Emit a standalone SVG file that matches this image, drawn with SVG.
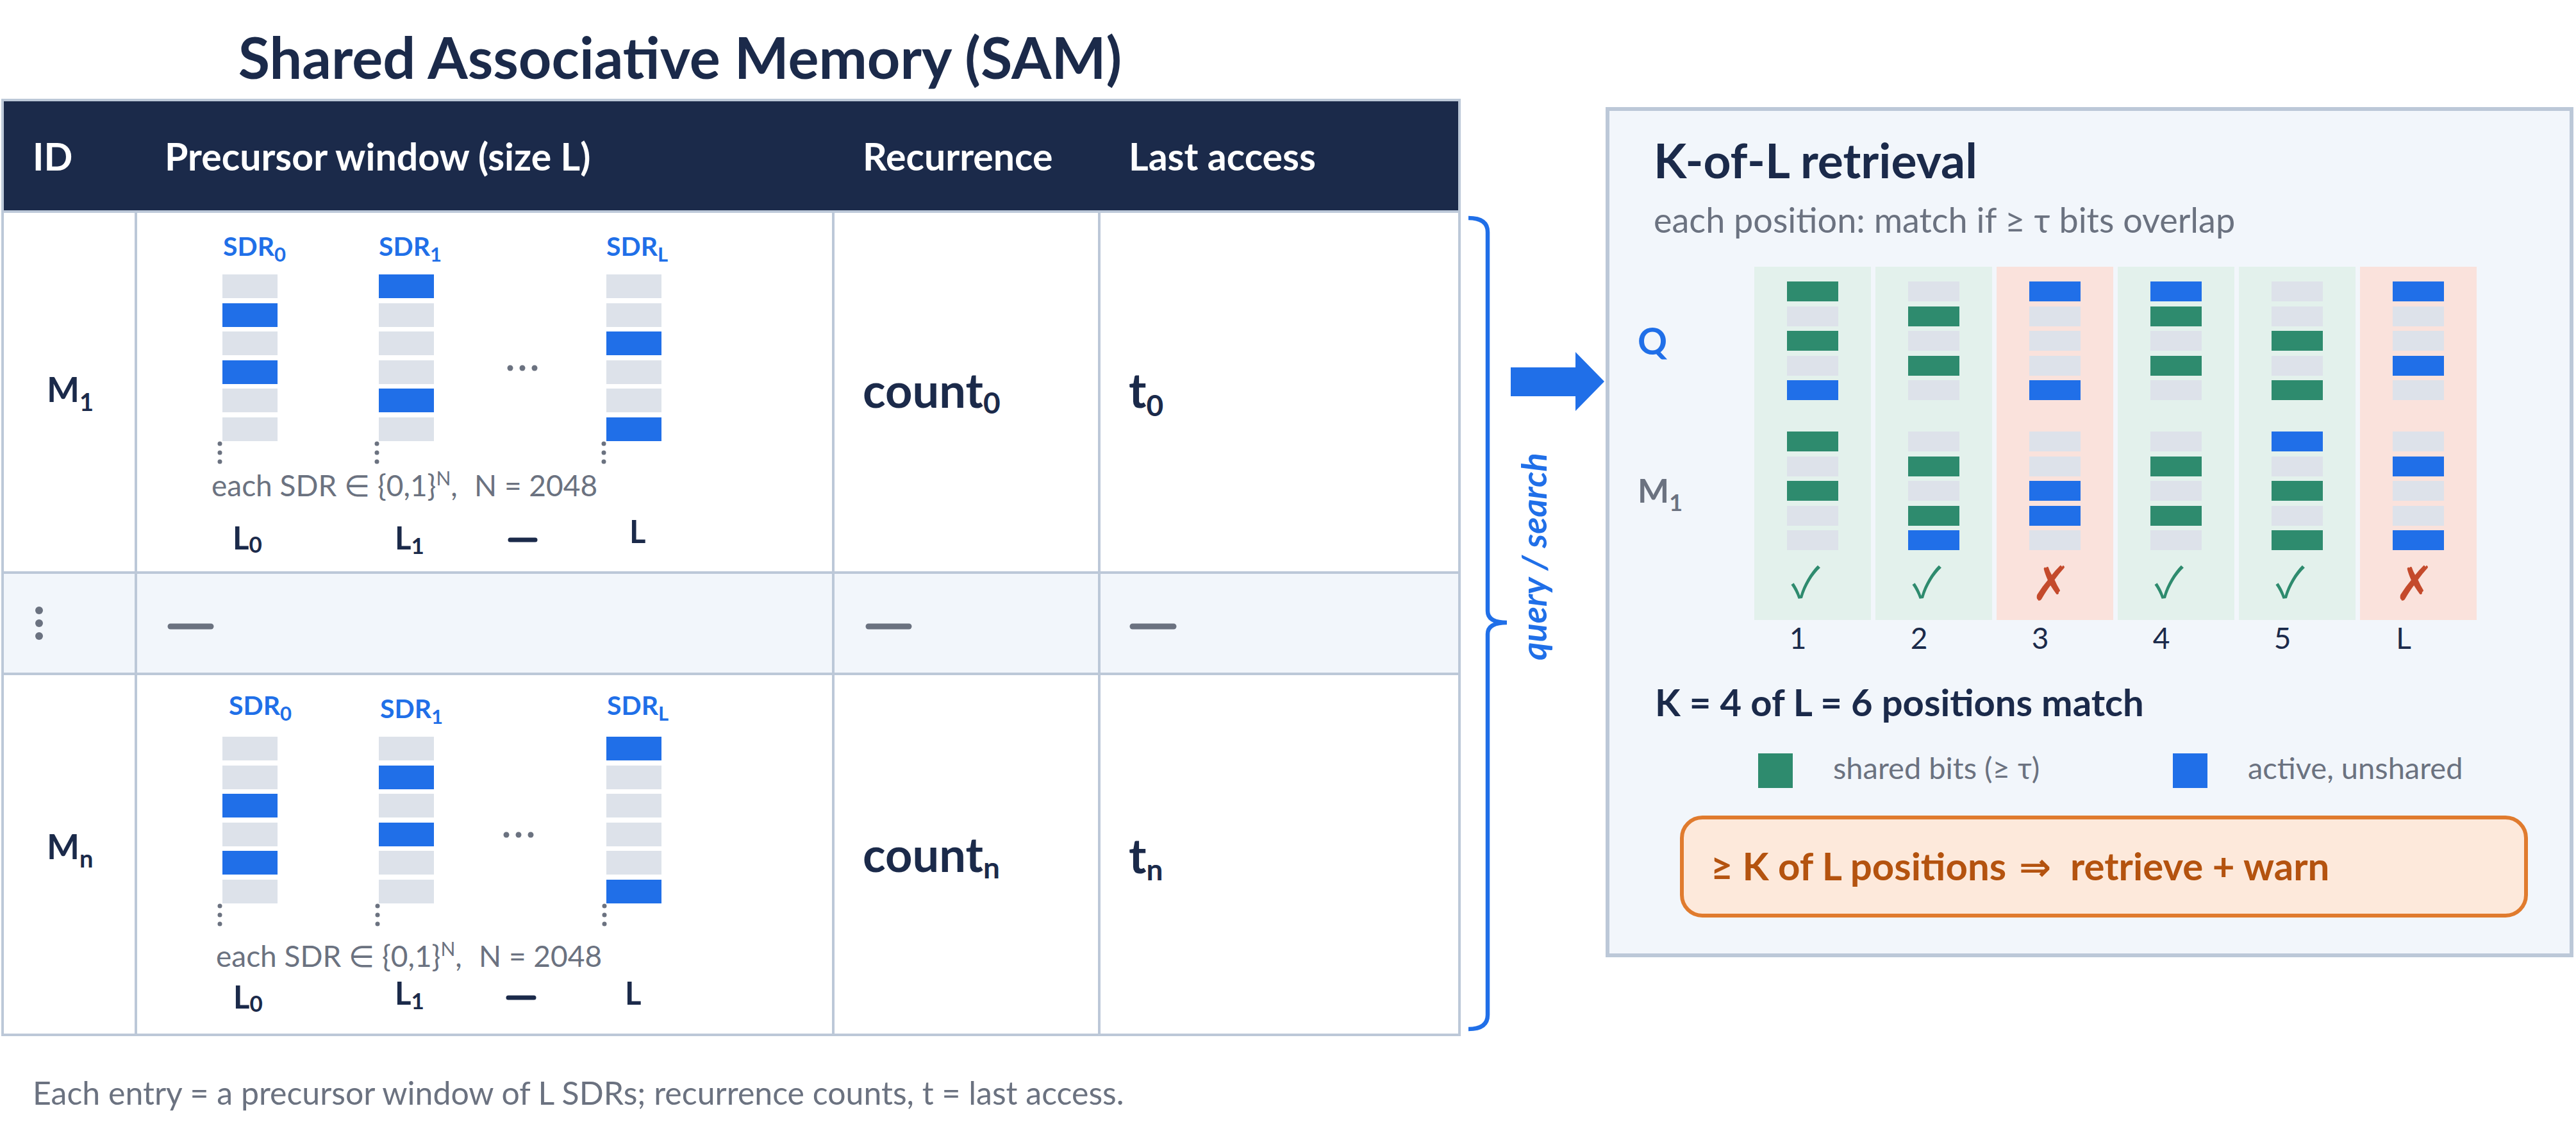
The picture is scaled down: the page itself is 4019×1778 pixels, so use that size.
<svg xmlns="http://www.w3.org/2000/svg" width="4019" height="1778" viewBox="0 0 4019 1778">
<style>
text{font-family:Lato,"Liberation Sans","DejaVu Sans",sans-serif}
.navy{fill:#1b2a4a}
.b{font-weight:700}
.gray{fill:#6b7280}
.blue{fill:#206fe8}
.off{fill:#dde2ea}
.on{fill:#206fe8}
.sh{fill:#2e8b6e}
.grid{stroke:#bcc8d8;stroke-width:4;fill:none}
.dot{fill:#6b7280}
.dash{stroke:#6b7280;stroke-width:9;stroke-linecap:round}
.ndash{stroke:#1b2a4a;stroke-width:7;stroke-linecap:round}
.hdr{fill:#fff;font-weight:700;font-size:59px}
.sdr{fill:#206fe8;font-weight:700;font-size:41px}
.note{fill:#6b7280;font-size:46px}
.lab{fill:#1b2a4a;font-weight:700;font-size:49px}
.val{fill:#1b2a4a;font-weight:700;font-size:74px}
.gbg{fill:#e3f1ec}
.rbg{fill:#fae2dc}
.chk{font-family:"Noto Sans CJK JP","DejaVu Sans",sans-serif;font-size:66px;text-anchor:middle}
.crs{font-family:"DejaVu Sans",sans-serif;font-size:74px;text-anchor:middle}
.num{fill:#1b2a4a;font-size:46px;text-anchor:middle}
</style>

<text x="1061" y="123" class="navy b" font-size="90" text-anchor="middle">Shared Associative Memory (SAM)</text>

<g id="table">
  <rect x="4" y="156" width="2273" height="1458" fill="#fff"/>
  <rect x="4" y="893" width="2273" height="158" fill="#f2f6fb"/>
  <rect x="2" y="156" width="2277" height="173" fill="#1b2a4a"/>
  <rect x="4" y="156" width="2273" height="1458" class="grid"/>
  <line x1="4" y1="330" x2="2277" y2="330" class="grid" stroke-width="5"/>
  <line x1="4" y1="893" x2="2277" y2="893" class="grid" stroke-width="5"/>
  <line x1="4" y1="1051" x2="2277" y2="1051" class="grid" stroke-width="5"/>
  <line x1="4" y1="1614" x2="2277" y2="1614" class="grid" stroke-width="5"/>
  <line x1="212" y1="330" x2="212" y2="1614" class="grid"/>
  <line x1="1300" y1="330" x2="1300" y2="1614" class="grid"/>
  <line x1="1715" y1="330" x2="1715" y2="1614" class="grid"/>
  <text x="51" y="266" class="hdr">ID</text>
  <text x="257" y="266" class="hdr">Precursor window (size L)</text>
  <text x="1346" y="266" class="hdr">Recurrence</text>
  <text x="1761" y="266" class="hdr">Last access</text>
</g>

<g id="row-m1">
  <text x="73" y="627" class="navy b" font-size="54">M<tspan font-size="38" dy="14">1</tspan></text>
  <text x="348" y="399" class="sdr">SDR<tspan font-size="31" dy="9">0</tspan></text>
  <text x="591" y="399" class="sdr">SDR<tspan font-size="31" dy="9">1</tspan></text>
  <text x="946" y="399" class="sdr">SDR<tspan font-size="31" dy="9">L</tspan></text>
  <rect x="347" y="428" width="86" height="37" class="off"/>
  <rect x="347" y="473" width="86" height="37" class="on"/>
  <rect x="347" y="517" width="86" height="37" class="off"/>
  <rect x="347" y="562" width="86" height="37" class="on"/>
  <rect x="347" y="606" width="86" height="37" class="off"/>
  <rect x="347" y="651" width="86" height="37" class="off"/>
  <rect x="591" y="428" width="86" height="37" class="on"/>
  <rect x="591" y="473" width="86" height="37" class="off"/>
  <rect x="591" y="517" width="86" height="37" class="off"/>
  <rect x="591" y="562" width="86" height="37" class="off"/>
  <rect x="591" y="606" width="86" height="37" class="on"/>
  <rect x="591" y="651" width="86" height="37" class="off"/>
  <rect x="946" y="428" width="86" height="37" class="off"/>
  <rect x="946" y="473" width="86" height="37" class="off"/>
  <rect x="946" y="517" width="86" height="37" class="on"/>
  <rect x="946" y="562" width="86" height="37" class="off"/>
  <rect x="946" y="606" width="86" height="37" class="off"/>
  <rect x="946" y="651" width="86" height="37" class="on"/>
  <circle cx="343" cy="692" r="3.5" class="dot"/><circle cx="343" cy="706" r="3.5" class="dot"/><circle cx="343" cy="720" r="3.5" class="dot"/>
  <circle cx="588" cy="692" r="3.5" class="dot"/><circle cx="588" cy="706" r="3.5" class="dot"/><circle cx="588" cy="720" r="3.5" class="dot"/>
  <circle cx="942" cy="692" r="3.5" class="dot"/><circle cx="942" cy="706" r="3.5" class="dot"/><circle cx="942" cy="720" r="3.5" class="dot"/>
  <circle cx="796" cy="574" r="4.5" class="dot"/><circle cx="815" cy="574" r="4.5" class="dot"/><circle cx="834" cy="574" r="4.5" class="dot"/>
  <text x="330" y="774" class="note">each SDR ∈ {0,1}<tspan font-size="30" dy="-17">N</tspan><tspan dy="17">,</tspan><tspan x="740">N = 2048</tspan></text>
  <text x="363" y="857" class="lab">L<tspan font-size="35" dy="5">0</tspan></text>
  <text x="616" y="857" class="lab">L<tspan font-size="35" dy="7">1</tspan></text>
  <line x1="796" y1="842" x2="835" y2="842" class="ndash"/>
  <text x="982" y="847" class="lab">L</text>
  <text x="1346" y="636" class="val">count<tspan font-size="46" dy="9">0</tspan></text>
  <text x="1761" y="636" class="val">t<tspan font-size="46" dy="13">0</tspan></text>
</g>

<g id="row-gap">
  <circle cx="61" cy="952" r="6" class="dot"/><circle cx="61" cy="972" r="6" class="dot"/><circle cx="61" cy="992" r="6" class="dot"/>
  <line x1="266" y1="977" x2="329" y2="977" class="dash"/>
  <line x1="1355" y1="977" x2="1418" y2="977" class="dash"/>
  <line x1="1767" y1="977" x2="1831" y2="977" class="dash"/>
</g>

<g id="row-mn">
  <text x="73" y="1340" class="navy b" font-size="54">M<tspan font-size="38" dy="13">n</tspan></text>
  <text x="357" y="1115" class="sdr">SDR<tspan font-size="31" dy="9">0</tspan></text>
  <text x="593" y="1120" class="sdr">SDR<tspan font-size="31" dy="9">1</tspan></text>
  <text x="947" y="1115" class="sdr">SDR<tspan font-size="31" dy="9">L</tspan></text>
  <rect x="347" y="1149" width="86" height="37" class="off"/>
  <rect x="347" y="1194" width="86" height="37" class="off"/>
  <rect x="347" y="1238" width="86" height="37" class="on"/>
  <rect x="347" y="1283" width="86" height="37" class="off"/>
  <rect x="347" y="1327" width="86" height="37" class="on"/>
  <rect x="347" y="1372" width="86" height="37" class="off"/>
  <rect x="591" y="1149" width="86" height="37" class="off"/>
  <rect x="591" y="1194" width="86" height="37" class="on"/>
  <rect x="591" y="1238" width="86" height="37" class="off"/>
  <rect x="591" y="1283" width="86" height="37" class="on"/>
  <rect x="591" y="1327" width="86" height="37" class="off"/>
  <rect x="591" y="1372" width="86" height="37" class="off"/>
  <rect x="946" y="1149" width="86" height="37" class="on"/>
  <rect x="946" y="1194" width="86" height="37" class="off"/>
  <rect x="946" y="1238" width="86" height="37" class="off"/>
  <rect x="946" y="1283" width="86" height="37" class="off"/>
  <rect x="946" y="1327" width="86" height="37" class="off"/>
  <rect x="946" y="1372" width="86" height="37" class="on"/>
  <circle cx="343" cy="1413" r="3.5" class="dot"/><circle cx="343" cy="1427" r="3.5" class="dot"/><circle cx="343" cy="1441" r="3.5" class="dot"/>
  <circle cx="589" cy="1413" r="3.5" class="dot"/><circle cx="589" cy="1427" r="3.5" class="dot"/><circle cx="589" cy="1441" r="3.5" class="dot"/>
  <circle cx="943" cy="1413" r="3.5" class="dot"/><circle cx="943" cy="1427" r="3.5" class="dot"/><circle cx="943" cy="1441" r="3.5" class="dot"/>
  <circle cx="790" cy="1302" r="4.5" class="dot"/><circle cx="809" cy="1302" r="4.5" class="dot"/><circle cx="828" cy="1302" r="4.5" class="dot"/>
  <text x="337" y="1508" class="note">each SDR ∈ {0,1}<tspan font-size="30" dy="-17">N</tspan><tspan dy="17">,</tspan><tspan x="747">N = 2048</tspan></text>
  <text x="364" y="1573" class="lab">L<tspan font-size="35" dy="5">0</tspan></text>
  <text x="616" y="1567" class="lab">L<tspan font-size="35" dy="7">1</tspan></text>
  <line x1="793" y1="1556" x2="833" y2="1556" class="ndash"/>
  <text x="975" y="1567" class="lab">L</text>
  <text x="1346" y="1360" class="val">count<tspan font-size="46" dy="10">n</tspan></text>
  <text x="1761" y="1362" class="val">t<tspan font-size="46" dy="11">n</tspan></text>
</g>

<text x="51" y="1723" class="gray" font-size="50">Each entry = a precursor window of L SDRs; recurrence counts, t = last access.</text>

<g id="connectors">
  <path d="M2291 340 Q2321 340 2321 362 L2321 953 Q2321 971 2351 971 Q2321 971 2321 989 L2321 1583 Q2321 1605 2291 1605" fill="none" stroke="#206fe8" stroke-width="6.5"/>
  <text transform="translate(2413,868) rotate(-90)" text-anchor="middle" class="blue b" font-style="italic" font-size="54">query / search</text>
  <polygon points="2357,573 2458,573 2458,549 2503,595 2458,641 2458,618 2357,618" fill="#206fe8"/>
</g>

<g id="retrieval">
  <rect x="2508" y="170" width="1504" height="1320" fill="#f2f6fb" stroke="#bcc8d8" stroke-width="6"/>
  <text x="2580" y="278" class="navy b" font-size="75">K-of-L retrieval</text>
  <text x="2580" y="363" class="gray" font-size="54">each position: match if ≥ τ bits overlap</text>
  <text x="2555" y="553" class="blue b" font-size="57">Q</text>
  <text x="2555" y="784" class="b" fill="#6b7280" font-size="52">M<tspan font-size="36" dy="13">1</tspan></text>

  <rect x="2737" y="416" width="182" height="551" class="gbg"/>
  <rect x="2926" y="416" width="182" height="551" class="gbg"/>
  <rect x="3115" y="416" width="182" height="551" class="rbg"/>
  <rect x="3304" y="416" width="182" height="551" class="gbg"/>
  <rect x="3493" y="416" width="182" height="551" class="gbg"/>
  <rect x="3682" y="416" width="182" height="551" class="rbg"/>

  <rect x="2788" y="439" width="80" height="31" class="sh"/>
  <rect x="2788" y="478" width="80" height="31" class="off"/>
  <rect x="2788" y="516" width="80" height="31" class="sh"/>
  <rect x="2788" y="555" width="80" height="31" class="off"/>
  <rect x="2788" y="593" width="80" height="31" class="on"/>
  <rect x="2788" y="673" width="80" height="31" class="sh"/>
  <rect x="2788" y="712" width="80" height="31" class="off"/>
  <rect x="2788" y="750" width="80" height="31" class="sh"/>
  <rect x="2788" y="789" width="80" height="31" class="off"/>
  <rect x="2788" y="827" width="80" height="31" class="off"/>

  <rect x="2977" y="439" width="80" height="31" class="off"/>
  <rect x="2977" y="478" width="80" height="31" class="sh"/>
  <rect x="2977" y="516" width="80" height="31" class="off"/>
  <rect x="2977" y="555" width="80" height="31" class="sh"/>
  <rect x="2977" y="593" width="80" height="31" class="off"/>
  <rect x="2977" y="673" width="80" height="31" class="off"/>
  <rect x="2977" y="712" width="80" height="31" class="sh"/>
  <rect x="2977" y="750" width="80" height="31" class="off"/>
  <rect x="2977" y="789" width="80" height="31" class="sh"/>
  <rect x="2977" y="827" width="80" height="31" class="on"/>

  <rect x="3166" y="439" width="80" height="31" class="on"/>
  <rect x="3166" y="478" width="80" height="31" class="off"/>
  <rect x="3166" y="516" width="80" height="31" class="off"/>
  <rect x="3166" y="555" width="80" height="31" class="off"/>
  <rect x="3166" y="593" width="80" height="31" class="on"/>
  <rect x="3166" y="673" width="80" height="31" class="off"/>
  <rect x="3166" y="712" width="80" height="31" class="off"/>
  <rect x="3166" y="750" width="80" height="31" class="on"/>
  <rect x="3166" y="789" width="80" height="31" class="on"/>
  <rect x="3166" y="827" width="80" height="31" class="off"/>

  <rect x="3355" y="439" width="80" height="31" class="on"/>
  <rect x="3355" y="478" width="80" height="31" class="sh"/>
  <rect x="3355" y="516" width="80" height="31" class="off"/>
  <rect x="3355" y="555" width="80" height="31" class="sh"/>
  <rect x="3355" y="593" width="80" height="31" class="off"/>
  <rect x="3355" y="673" width="80" height="31" class="off"/>
  <rect x="3355" y="712" width="80" height="31" class="sh"/>
  <rect x="3355" y="750" width="80" height="31" class="off"/>
  <rect x="3355" y="789" width="80" height="31" class="sh"/>
  <rect x="3355" y="827" width="80" height="31" class="off"/>

  <rect x="3544" y="439" width="80" height="31" class="off"/>
  <rect x="3544" y="478" width="80" height="31" class="off"/>
  <rect x="3544" y="516" width="80" height="31" class="sh"/>
  <rect x="3544" y="555" width="80" height="31" class="off"/>
  <rect x="3544" y="593" width="80" height="31" class="sh"/>
  <rect x="3544" y="673" width="80" height="31" class="on"/>
  <rect x="3544" y="712" width="80" height="31" class="off"/>
  <rect x="3544" y="750" width="80" height="31" class="sh"/>
  <rect x="3544" y="789" width="80" height="31" class="off"/>
  <rect x="3544" y="827" width="80" height="31" class="sh"/>

  <rect x="3733" y="439" width="80" height="31" class="on"/>
  <rect x="3733" y="478" width="80" height="31" class="off"/>
  <rect x="3733" y="516" width="80" height="31" class="off"/>
  <rect x="3733" y="555" width="80" height="31" class="on"/>
  <rect x="3733" y="593" width="80" height="31" class="off"/>
  <rect x="3733" y="673" width="80" height="31" class="off"/>
  <rect x="3733" y="712" width="80" height="31" class="on"/>
  <rect x="3733" y="750" width="80" height="31" class="off"/>
  <rect x="3733" y="789" width="80" height="31" class="off"/>
  <rect x="3733" y="827" width="80" height="31" class="on"/>

  <text x="2817" y="932" class="chk" fill="#2e8b6e">✓</text>
  <text x="3006" y="932" class="chk" fill="#2e8b6e">✓</text>
  <text x="3200" y="936" class="crs" fill="#c44a2c">✗</text>
  <text x="3384" y="932" class="chk" fill="#2e8b6e">✓</text>
  <text x="3573" y="932" class="chk" fill="#2e8b6e">✓</text>
  <text x="3767" y="936" class="crs" fill="#c44a2c">✗</text>

  <text x="2805" y="1012" class="num">1</text>
  <text x="2994" y="1012" class="num">2</text>
  <text x="3183" y="1012" class="num">3</text>
  <text x="3372" y="1012" class="num">4</text>
  <text x="3561" y="1012" class="num">5</text>
  <text x="3750" y="1012" class="num">L</text>

  <text x="2582" y="1117" class="navy b" font-size="58">K = 4 of L = 6 positions match</text>

  <rect x="2743" y="1175" width="54" height="54" class="sh"/>
  <text x="2860" y="1215" class="gray" font-size="47">shared bits (≥ τ)</text>
  <rect x="3390" y="1175" width="54" height="54" class="on"/>
  <text x="3507" y="1215" class="gray" font-size="47">active, unshared</text>

  <rect x="2624" y="1275" width="1317" height="153" rx="32" fill="#fde9db" stroke="#e07b2e" stroke-width="6"/>
  <text x="2669" y="1373" class="b" fill="#b4530f" font-size="60">≥ K of L positions<tspan x="3150">⇒</tspan><tspan x="3230">retrieve + warn</tspan></text>
</g>
</svg>
